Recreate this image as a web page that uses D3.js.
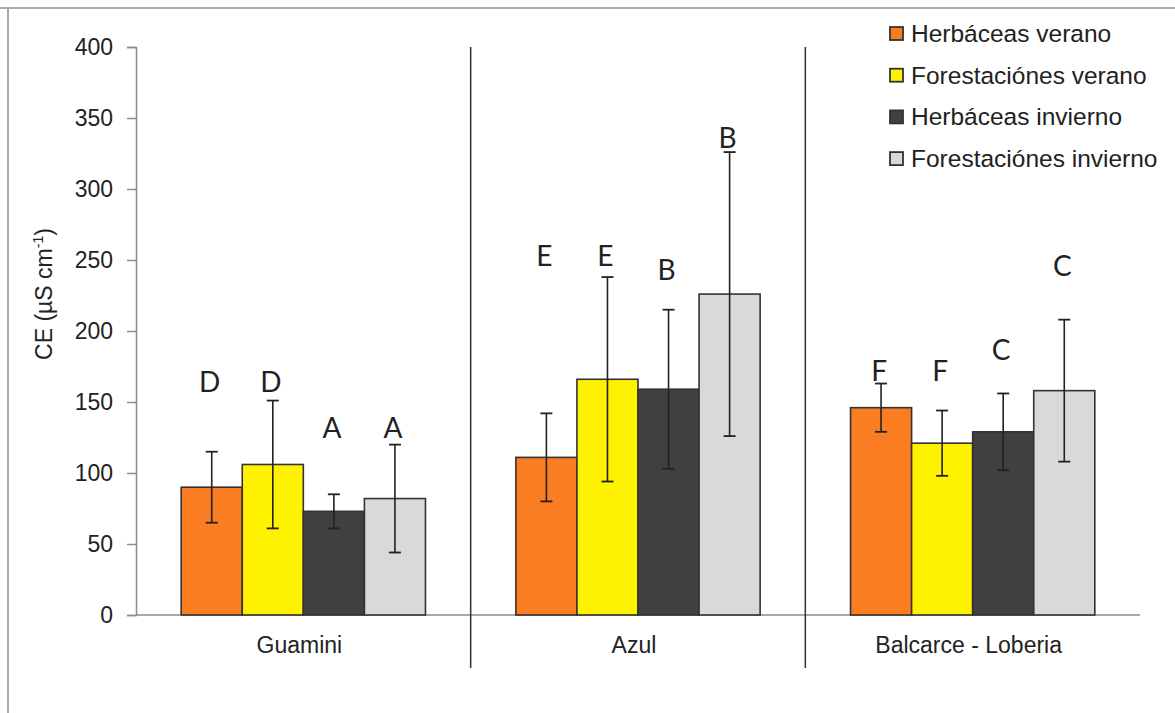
<!DOCTYPE html>
<html>
<head>
<meta charset="utf-8">
<script src="https://cdn.jsdelivr.net/npm/d3@7"></script>
<style>
  body { margin: 0; background: #fff; }
  svg text { font-family: "Liberation Sans", Arial, sans-serif; fill: #222; }
</style>
</head>
<body>
<div id="chart"></div>
<script>
// sites along the x axis
var sites = ["Guamini", "Azul", "Balcarce - Loberia"];
var series = ["Herbáceas verano", "Forestaciónes verano", "Herbáceas invierno", "Forestaciónes invierno"];

// mean CE per series, one value per site
var herbVerano   = [90, 111, 146];
var forVerano    = [106, 166, 121];
var herbInvierno = [73, 159, 129];
var forInvierno  = [82, 226, 158];

// error bar half-length
var errHerbVerano   = [25, 31, 17];
var errForVerano    = [45, 72, 23];
var errHerbInvierno = [12, 56, 27];
var errForInvierno  = [38, 100, 50];

// significance letters and the CE level where each one is written
var letters = [["D", "D", "A", "A"], ["E", "E", "B", "B"], ["F", "F", "C", "C"]];
var letterLevel = [[164, 164, 132, 132], [253, 253, 243, 336], [172, 172, 187, 246]];

var yTicks = [0, 50, 100, 150, 200, 250, 300, 350, 400];

var means = [herbVerano, forVerano, herbInvierno, forInvierno];
var errs = [errHerbVerano, errForVerano, errHerbInvierno, errForInvierno];
var colors = ["#fb7d22", "#fff200", "#404040", "#d9d9d9"];

const W = 1175, H = 713;
const mLeft = 136, mRight = 1140, mTop = 47, mBottom = 615;

const svg = d3.select("#chart").append("svg")
  .attr("width", W).attr("height", H);

// outer frame (top and left edges visible)
svg.append("line").attr("x1", 0).attr("x2", W).attr("y1", 8).attr("y2", 8)
  .attr("stroke", "#aaa").attr("stroke-width", 2);
svg.append("line").attr("x1", 8).attr("x2", 8).attr("y1", 8).attr("y2", H)
  .attr("stroke", "#aaa").attr("stroke-width", 2);

const x0 = d3.scaleBand().domain(sites).range([mLeft, mRight]).paddingInner(0).paddingOuter(0);
const x1 = d3.scaleBand().domain(d3.range(series.length))
  .range([0, x0.bandwidth()]).paddingInner(0).paddingOuter(0.74);
const y = d3.scaleLinear().domain([0, 400]).range([mBottom, mTop]);

// y axis
const yAxis = d3.axisLeft(y).tickValues(yTicks).tickSize(9).tickPadding(14);
const gy = svg.append("g").attr("transform", "translate(" + mLeft + ",0)").call(yAxis);
gy.selectAll("path, line").attr("stroke", "#8c8c8c").attr("stroke-width", 1.5);
gy.selectAll("text").style("font-size", "23px").attr("fill", "#222")
  .style("font-family", "Liberation Sans, Arial, sans-serif");

// x baseline
svg.append("line").attr("x1", mLeft).attr("x2", mRight)
  .attr("y1", mBottom).attr("y2", mBottom)
  .attr("stroke", "#8c8c8c").attr("stroke-width", 1.5);

// group separators
sites.slice(1).forEach(function(s) {
  svg.append("line")
    .attr("x1", x0(s)).attr("x2", x0(s))
    .attr("y1", mTop).attr("y2", 668)
    .attr("stroke", "#333").attr("stroke-width", 1.5);
});

// y label
const yl = svg.append("text")
  .attr("transform", "translate(52,294) rotate(-90)")
  .attr("text-anchor", "middle")
  .style("font-size", "23px");
yl.append("tspan").text("CE (µS cm");
yl.append("tspan").text("-1").attr("dy", -9).style("font-size", "14px");
yl.append("tspan").text(")").attr("dy", 9);

// bars
const groups = svg.selectAll(".site").data(sites).enter().append("g")
  .attr("transform", d => "translate(" + x0(d) + ",0)");

groups.each(function(site, si) {
  const g = d3.select(this);
  const rows = series.map((s, k) => ({k: k, v: means[k][si], e: errs[k][si],
    letter: letters[si][k], ly: letterLevel[si][k]}));

  g.selectAll("rect").data(rows).enter().append("rect")
    .attr("x", d => x1(d.k))
    .attr("y", d => y(d.v))
    .attr("width", x1.bandwidth())
    .attr("height", d => y(0) - y(d.v))
    .attr("fill", d => colors[d.k])
    .attr("stroke", "#333").attr("stroke-width", 1.6);

  const eb = g.selectAll(".err").data(rows).enter().append("g");
  eb.append("line")
    .attr("x1", d => x1(d.k) + x1.bandwidth() / 2).attr("x2", d => x1(d.k) + x1.bandwidth() / 2)
    .attr("y1", d => y(d.v + d.e)).attr("y2", d => y(d.v - d.e))
    .attr("stroke", "#222").attr("stroke-width", 1.6);
  [1, -1].forEach(function(sgn) {
    eb.append("line")
      .attr("x1", d => x1(d.k) + x1.bandwidth() / 2 - 6).attr("x2", d => x1(d.k) + x1.bandwidth() / 2 + 6)
      .attr("y1", d => y(d.v + sgn * d.e)).attr("y2", d => y(d.v + sgn * d.e))
      .attr("stroke", "#222").attr("stroke-width", 1.8);
  });

  g.selectAll(".letter").data(rows).enter().append("text")
    .attr("x", d => x1(d.k) + x1.bandwidth() / 2 - 2)
    .attr("y", d => y(d.ly))
    .attr("dy", "0.36em")
    .attr("text-anchor", "middle")
    .style("font-family", "Lato, 'Open Sans', sans-serif")
    .style("font-size", "28px")
    .text(d => d.letter);

  g.append("text")
    .attr("x", x0.bandwidth() / 2 - 4)
    .attr("y", 645)
    .attr("dy", "0.35em")
    .attr("text-anchor", "middle")
    .style("font-size", "23px")
    .text(site);
});

// legend
const lg = svg.append("g").attr("transform", "translate(890,0)");
series.forEach(function(s, k) {
  const cy = 33.5 + k * 41.7;
  lg.append("rect").attr("x", 0).attr("y", cy - 6.5).attr("width", 13).attr("height", 13)
    .attr("fill", colors[k]).attr("stroke", "#333").attr("stroke-width", 1.8);
  lg.append("text").attr("x", 21).attr("y", cy).attr("dy", "0.35em")
    .style("font-size", "24.5px").text(s);
});
</script>
</body>
</html>
